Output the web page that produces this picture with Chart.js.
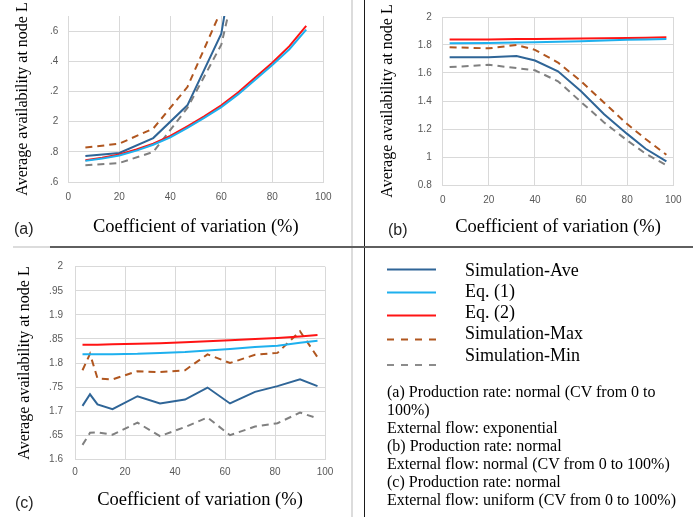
<!DOCTYPE html>
<html>
<head>
<meta charset="utf-8">
<script src="https://cdn.jsdelivr.net/npm/chart.js@4.4.1/dist/chart.umd.min.js"></script>
<style>
  html, body { margin: 0; padding: 0; background: #fff; }
  #wrap { position: relative; width: 693px; height: 517px; overflow: hidden; }
  .box { position: absolute; }
  .tag { position: absolute; font-family: "Liberation Sans", sans-serif; font-size: 16px; color: #262626; line-height: 18px; }
  .txt { position: absolute; font-family: "Liberation Serif", serif; color: #000; white-space: nowrap; }
  .rule { position: absolute; }
</style>
</head>
<body>
<div id="wrap">
  <canvas id="chartA" class="box" style="left:0;top:0" width="352" height="247"></canvas>
  <canvas id="chartB" class="box" style="left:364px;top:0" width="329" height="247"></canvas>
  <canvas id="chartC" class="box" style="left:0;top:248px" width="352" height="269"></canvas>

  <div class="tag" style="left:14px;top:220px">(a)</div>
  <div class="tag" style="left:388px;top:221px">(b)</div>
  <div class="tag" style="left:15px;top:494px">(c)</div>

  <!-- panel borders -->
  <div class="rule" style="left:351px;top:0;width:2px;height:517px;background:#dcdcdc"></div>
  <div class="rule" style="left:364px;top:0;width:1px;height:517px;background:#1a1a1a"></div>
  <div class="rule" style="left:13px;top:246px;width:37px;height:2px;background:#dcdcdc"></div>
  <div class="rule" style="left:50px;top:246px;width:643px;height:2px;background:#5f5f5f"></div>

  <!-- legend -->
  <svg class="box" style="left:0;top:0" width="693" height="517">
    <line x1="387" y1="269.5" x2="436" y2="269.5" stroke="#2f6597" stroke-width="2"/>
    <line x1="387" y1="292.5" x2="436" y2="292.5" stroke="#1eb0ee" stroke-width="2"/>
    <line x1="387" y1="315.5" x2="436" y2="315.5" stroke="#ff1414" stroke-width="2"/>
    <line x1="387" y1="339.5" x2="436" y2="339.5" stroke="#b0561f" stroke-width="2" stroke-dasharray="7 7"/>
    <line x1="387" y1="365" x2="436" y2="365" stroke="#8c8c8c" stroke-width="2" stroke-dasharray="7 7"/>
  </svg>
  <div class="txt" style="left:465px;top:259.5px;font-size:18px;line-height:21.3px">
    Simulation-Ave<br>Eq. (1)<br>Eq. (2)<br>Simulation-Max<br>Simulation-Min
  </div>
  <div class="txt" style="left:387px;top:383px;font-size:16px;line-height:18.05px">
    (a) Production rate: normal (CV from 0 to<br>100%)<br>External flow: exponential<br>(b) Production rate: normal<br>External flow: normal (CV from 0 to 100%)<br>(c) Production rate: normal<br>External flow: uniform (CV from 0 to 100%)
  </div>
</div>

<script>
// x axis (CV %) ticks, same for all panels
const cvTicks = [0, 20, 40, 60, 80, 100];

// (a) external flow exponential
const cvSimA = [6.7, 20, 33.3, 46.7, 60, 66.7];
const aveA = [1.772, 1.792, 1.891, 2.108, 2.583, 3.25];
const cvMaxA = [6.7, 20, 33.3, 46.7, 60];
const maxA = [1.828, 1.854, 1.954, 2.229, 2.74];
const minA = [1.711, 1.726, 1.799, 2.09, 2.51, 3.0];
const cvEqA = [6.7, 13.3, 20, 26.7, 33.3, 40, 46.7, 53.3, 60, 66.7, 73.3, 80, 86.7, 93.3];
const eq1A = [1.740, 1.755, 1.776, 1.808, 1.847, 1.896, 1.958, 2.025, 2.096, 2.182, 2.278, 2.375, 2.48, 2.61];
const eq2A = [1.744, 1.760, 1.783, 1.815, 1.854, 1.905, 1.969, 2.035, 2.108, 2.195, 2.293, 2.39, 2.50, 2.635];
const yTicksA = [1.6, 1.8, 2.0, 2.2, 2.4, 2.6];
const yLabelsA = [".6", ".8", "2", ".2", ".4", ".6"];

// (b) external flow normal
const cvB = [3, 20, 32, 40, 50, 60, 70, 80, 88, 97];
const aveB = [1.713, 1.713, 1.722, 1.689, 1.612, 1.47, 1.306, 1.165, 1.059, 0.969];
const maxB = [1.784, 1.776, 1.80, 1.765, 1.675, 1.541, 1.388, 1.235, 1.129, 1.016];
const minB = [1.642, 1.659, 1.635, 1.619, 1.541, 1.393, 1.247, 1.118, 1.024, 0.941];
const eq1B = [1.812, 1.815, 1.818, 1.82, 1.823, 1.827, 1.832, 1.837, 1.84, 1.842];
const eq2B = [1.84, 1.84, 1.842, 1.843, 1.845, 1.846, 1.848, 1.85, 1.852, 1.855];
const yTicksB = [0.8, 1.0, 1.2, 1.4, 1.6, 1.8, 2.0];
const yLabelsB = ["0.8", "1", "1.2", "1.4", "1.6", "1.8", "2"];

// (c) external flow uniform
const cvC = [3, 6, 9, 15, 25, 34, 44, 53, 62, 72, 81, 90, 97];
const aveC = [1.711, 1.735, 1.714, 1.704, 1.731, 1.716, 1.724, 1.749, 1.716, 1.740, 1.752, 1.766, 1.752];
const maxC = [1.785, 1.819, 1.768, 1.766, 1.783, 1.781, 1.785, 1.818, 1.80, 1.817, 1.821, 1.866, 1.812];
const minC = [1.630, 1.655, 1.656, 1.651, 1.676, 1.648, 1.667, 1.687, 1.650, 1.668, 1.675, 1.697, 1.685];
const eq1C = [1.818, 1.818, 1.818, 1.818, 1.819, 1.821, 1.823, 1.826, 1.829, 1.833, 1.836, 1.842, 1.846];
const eq2C = [1.838, 1.838, 1.838, 1.839, 1.840, 1.841, 1.843, 1.845, 1.847, 1.850, 1.852, 1.855, 1.858];
const yTicksC = [1.6, 1.65, 1.7, 1.75, 1.8, 1.85, 1.9, 1.95, 2.0];
const yLabelsC = ["1.6", ".65", "1.7", ".75", "1.8", ".85", "1.9", ".95", "2"];

const colors = {
    ave: "#2f6597",
    eq1: "#1eb0ee",
    eq2: "#ff1414",
    max: "#b0561f",
    min: "#808080",
};

function series(xs, ys, color, dashed) {
    return {
        data: ys.map((y, i) => ({ x: xs[i], y: y })),
        borderColor: color,
        borderWidth: 2,
        borderDash: dashed ? [7, 5] : [],
        pointRadius: 0,
        tension: 0,
        fill: false,
    };
}

function makeChart(id, cfg) {
    const canvas = document.getElementById(id);
    const W = canvas.width, H = canvas.height;
    const a = cfg.area;
    new Chart(canvas.getContext("2d"), {
        type: "line",
        data: { datasets: cfg.datasets },
        options: {
            responsive: false,
            animation: false,
            layout: { padding: { top: a.top, right: W - a.right, left: 0, bottom: 0 } },
            plugins: { legend: { display: false }, tooltip: { enabled: false } },
            scales: {
                x: {
                    type: "linear",
                    min: 0,
                    max: 100,
                    afterBuildTicks: (s) => { s.ticks = cvTicks.map((v) => ({ value: v })); },
                    afterFit: (s) => { s.height = H - a.bottom; },
                    grid: { color: "#d9d9d9", drawTicks: false },
                    border: { color: "#d9d9d9" },
                    ticks: {
                        color: "#595959",
                        font: { family: "Liberation Sans", size: 10 },
                        padding: cfg.xPad,
                        maxRotation: 0,
                        autoSkip: false,
                    },
                    title: {
                        display: true,
                        text: "Coefficient of variation (%)",
                        color: "#000",
                        font: { family: "Liberation Serif", size: 18.5 },
                        padding: { top: 0, bottom: cfg.xTitlePad },
                    },
                },
                y: {
                    type: "linear",
                    min: cfg.yMin,
                    max: cfg.yMax,
                    afterBuildTicks: (s) => { s.ticks = cfg.yTicks.map((v) => ({ value: v })); },
                    afterFit: (s) => { s.width = a.left; },
                    grid: { color: "#d9d9d9", drawTicks: false },
                    border: { color: "#d9d9d9" },
                    ticks: {
                        color: "#595959",
                        font: { family: "Liberation Sans", size: 10 },
                        padding: cfg.yPad,
                        autoSkip: false,
                        callback: (v, i) => cfg.yLabels[i],
                    },
                    title: {
                        display: true,
                        text: "Average availability at node L",
                        color: "#000",
                        font: { family: "Liberation Serif", size: 16 },
                        padding: { top: cfg.yTitlePad, bottom: 0 },
                    },
                },
            },
        },
    });
}

makeChart("chartA", {
    area: { left: 68.3, right: 323.3, top: 15, bottom: 182 },
    yMin: 1.6, yMax: 2.7, yTicks: yTicksA, yLabels: yLabelsA,
    xPad: 9, yPad: 10, xTitlePad: 8.9, yTitlePad: 13.4,
    datasets: [
        series(cvEqA, eq1A, colors.eq1, false),
        series(cvEqA, eq2A, colors.eq2, false),
        series(cvMaxA, maxA, colors.max, true),
        series(cvSimA, minA, colors.min, true),
        series(cvSimA, aveA, colors.ave, false),
    ],
});

makeChart("chartB", {
    area: { left: 78.7, right: 309.3, top: 15, bottom: 185 },
    yMin: 0.8, yMax: 2.0, yTicks: yTicksB, yLabels: yLabelsB,
    xPad: 9, yPad: 11, xTitlePad: 8.9, yTitlePad: 14.4,
    datasets: [
        series(cvB, eq1B, colors.eq1, false),
        series(cvB, eq2B, colors.eq2, false),
        series(cvB, maxB, colors.max, true),
        series(cvB, minB, colors.min, true),
        series(cvB, aveB, colors.ave, false),
    ],
});

makeChart("chartC", {
    area: { left: 75, right: 325, top: 18.7, bottom: 211.3 },
    yMin: 1.6, yMax: 2.0, yTicks: yTicksC, yLabels: yLabelsC,
    xPad: 7, yPad: 12, xTitlePad: 5.9, yTitlePad: 15.4,
    datasets: [
        series(cvC, eq1C, colors.eq1, false),
        series(cvC, eq2C, colors.eq2, false),
        series(cvC, maxC, colors.max, true),
        series(cvC, minC, colors.min, true),
        series(cvC, aveC, colors.ave, false),
    ],
});
</script>
</body>
</html>
